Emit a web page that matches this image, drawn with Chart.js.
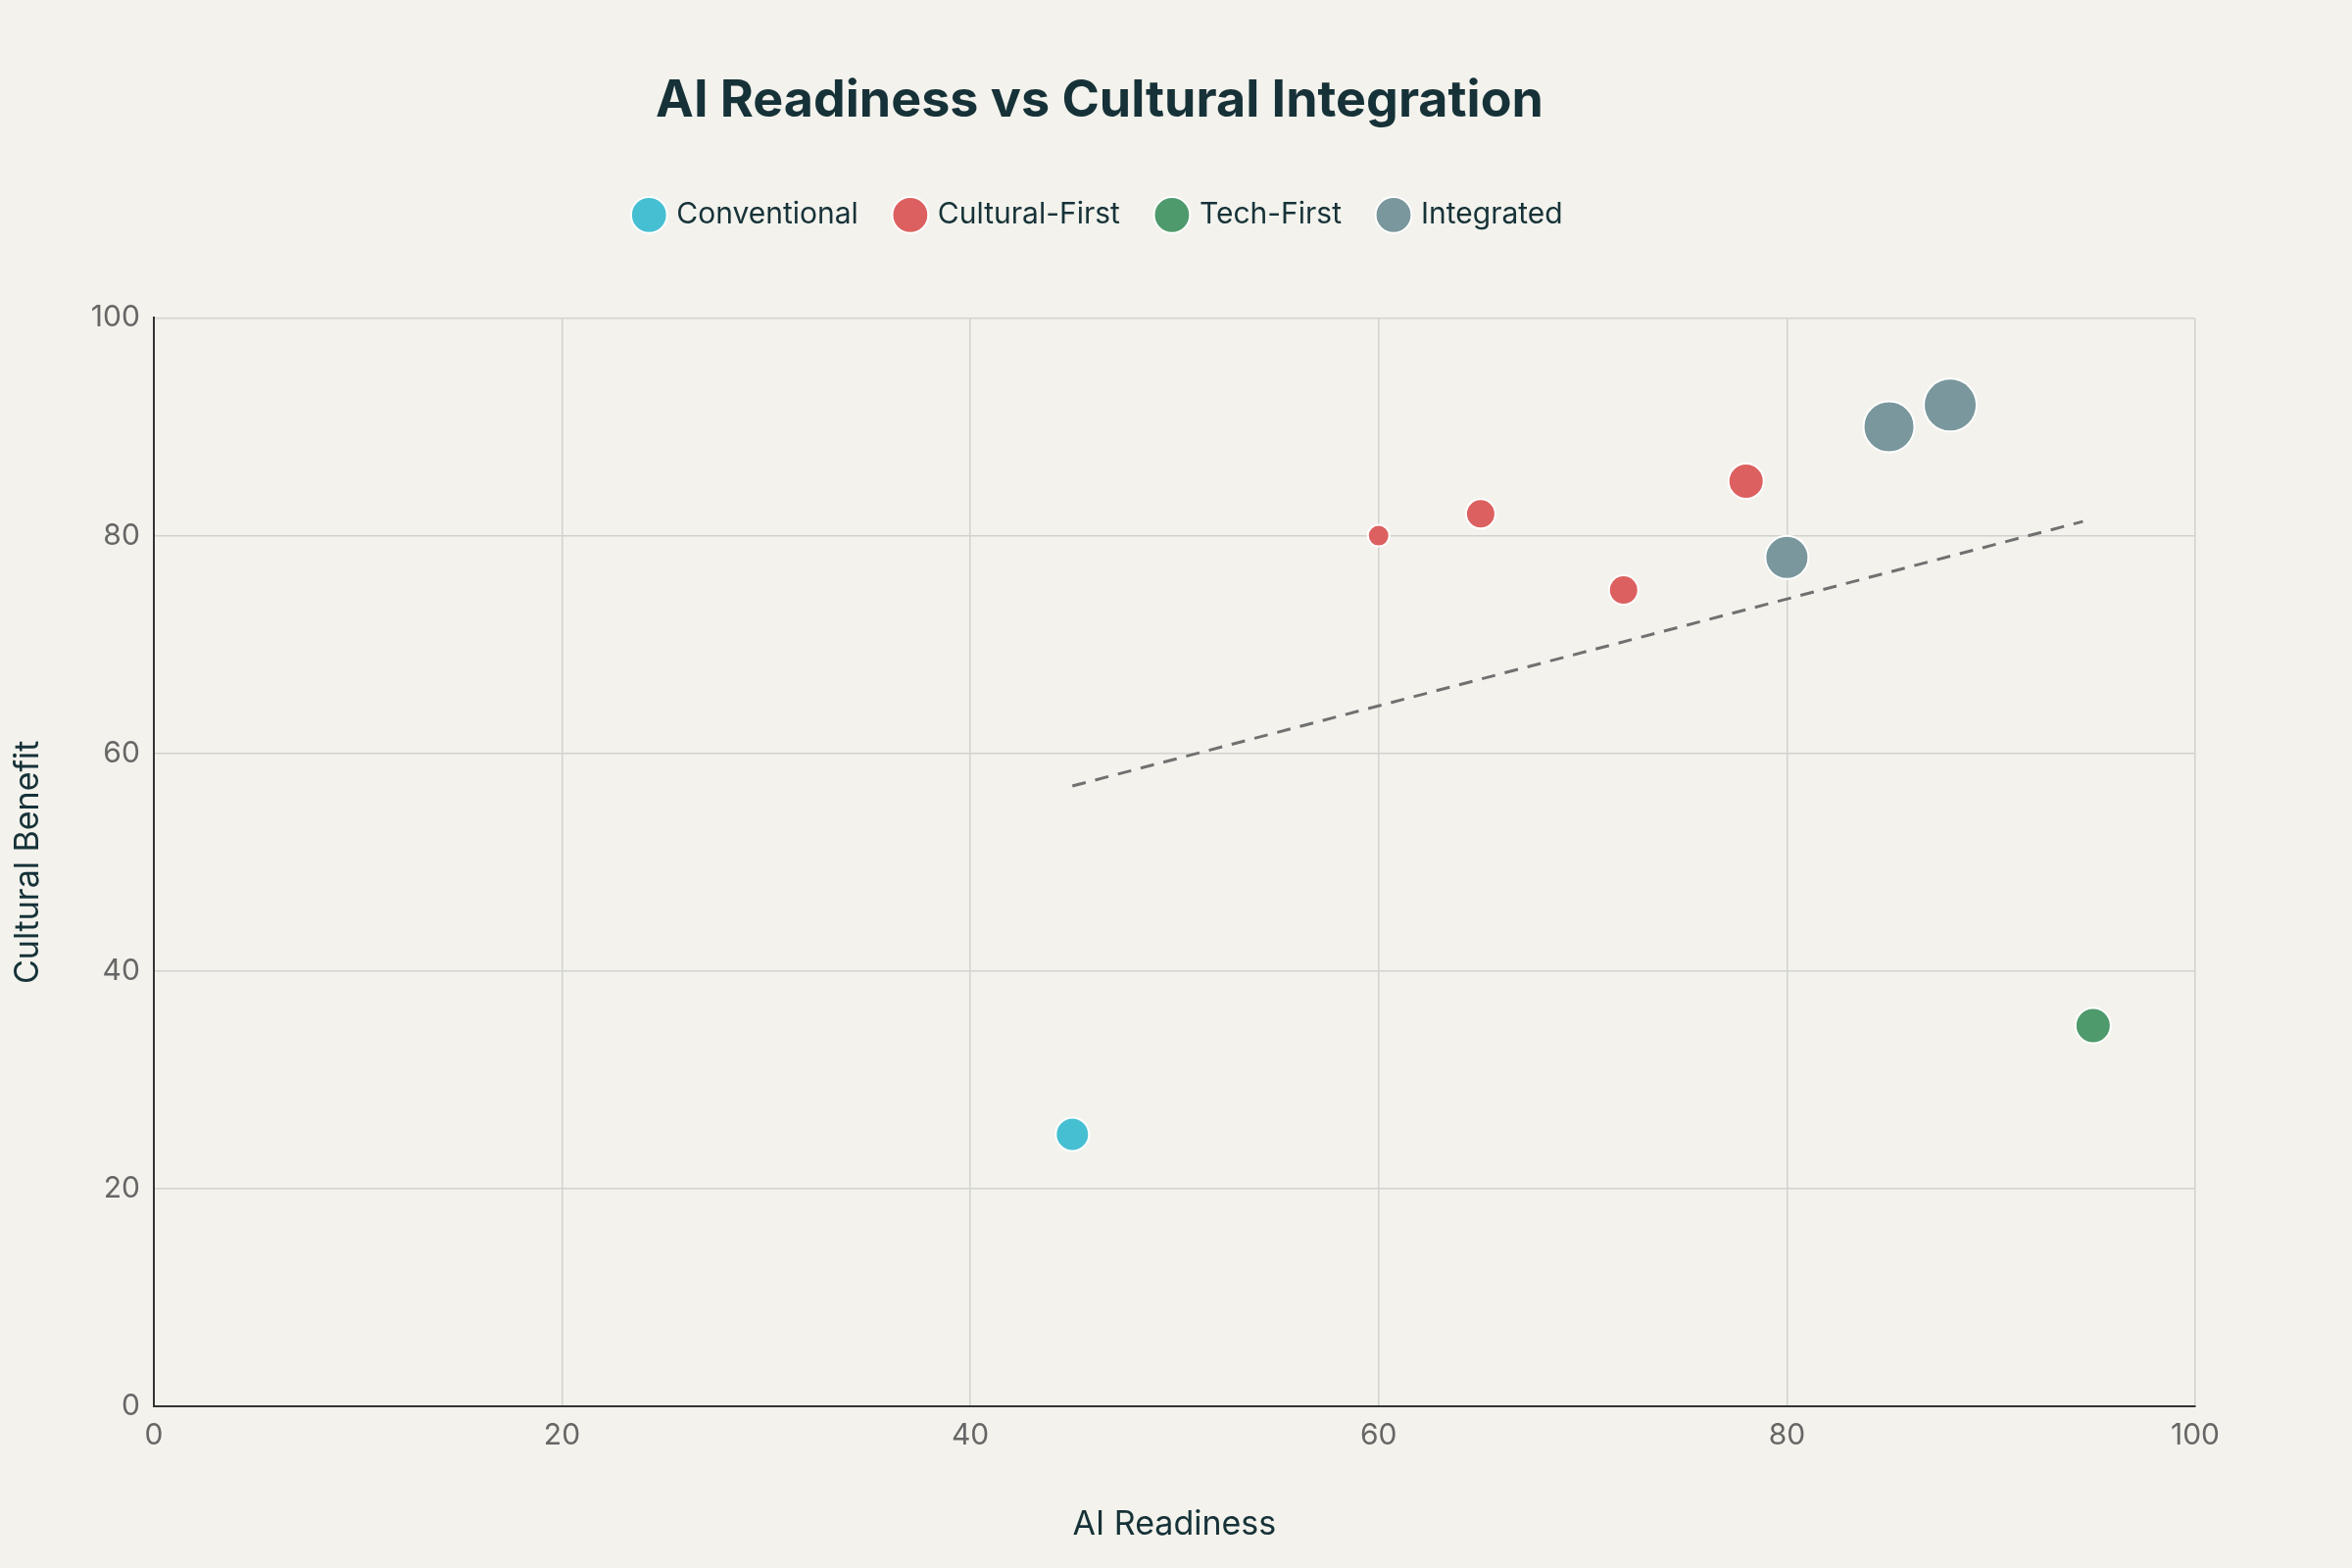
<!DOCTYPE html>
<html><head><meta charset="utf-8">
<script src="https://cdn.jsdelivr.net/npm/chart.js@4"></script>
<style>html,body{margin:0;padding:0;background:#f3f2ec;}#w{width:2400px;height:1600px;}</style>
</head><body><div id="w"><canvas id="c" width="2400" height="1600"></canvas></div>
<script>
const seriesNames = ["Conventional","Cultural-First","Tech-First","Integrated"];
const seriesColors = ["#47bfd2","#dd6060","#4e9a6d","#7a979d"];
const conventional = [{x:45,y:25,r:17}];
const culturalFirst = [{x:60,y:80,r:11},{x:65,y:82,r:15},{x:72,y:75,r:15},{x:78,y:85,r:18}];
const techFirst = [{x:95,y:35,r:18}];
const integrated = [{x:80,y:78,r:22},{x:85,y:90,r:26},{x:88,y:92,r:27}];
const trendX = [45,94.5];
const trendY = [57,81.3];
const xTicks = [0,20,40,60,80,100];

const all = [conventional,culturalFirst,techFirst,integrated];
const datasets = all.map((d,i)=>({type:'bubble',label:seriesNames[i],data:d,backgroundColor:seriesColors[i],borderColor:'#ffffff',borderWidth:2}));
datasets.push({type:'line',label:'trend',data:trendX.map((x,i)=>({x,y:trendY[i]})),borderColor:'#707070',borderDash:[14,10],borderWidth:3,pointRadius:0,fill:false});
const font='"Inter","Noto Sans",sans-serif';
new Chart(document.getElementById('c'),{
 data:{datasets},
 plugins:[{id:'legendGap',beforeInit(chart){const f=chart.legend.fit;chart.legend.fit=function(){f.call(this);this.height+=80;};}}],
 options:{responsive:false,animation:false,devicePixelRatio:1,
  layout:{padding:{left:4,right:160,top:32,bottom:20}},
  plugins:{
   title:{display:true,text:'AI Readiness vs Cultural Integration',color:'#163238',font:{family:font,size:52,weight:'bold'},padding:{top:40,bottom:30}},
   legend:{labels:{filter:i=>i.text!=='trend',usePointStyle:true,pointStyle:'circle',boxWidth:26,boxHeight:26,color:'#163238',font:{family:font,size:30},padding:40}},
   tooltip:{enabled:false}},
  scales:{
   x:{type:'linear',min:0,max:100,afterBuildTicks:a=>{a.ticks=xTicks.map(v=>({value:v}));},
      title:{display:true,text:'AI Readiness',color:'#163238',font:{family:font,size:34},padding:{top:40}},
      ticks:{color:'#666',font:{family:font,size:30},padding:12},
      grid:{color:'#d2d2ce',lineWidth:1.5,tickLength:0},border:{color:'#333',width:2}},
   y:{type:'linear',min:0,max:100,ticks:{stepSize:20,color:'#666',font:{family:font,size:30},padding:14},
      title:{display:true,text:'Cultural Benefit',color:'#163238',font:{family:font,size:34},padding:{bottom:30}},
      grid:{color:'#d2d2ce',lineWidth:1.5,tickLength:0},border:{color:'#333',width:2}}
  }}
});
</script></body></html>
